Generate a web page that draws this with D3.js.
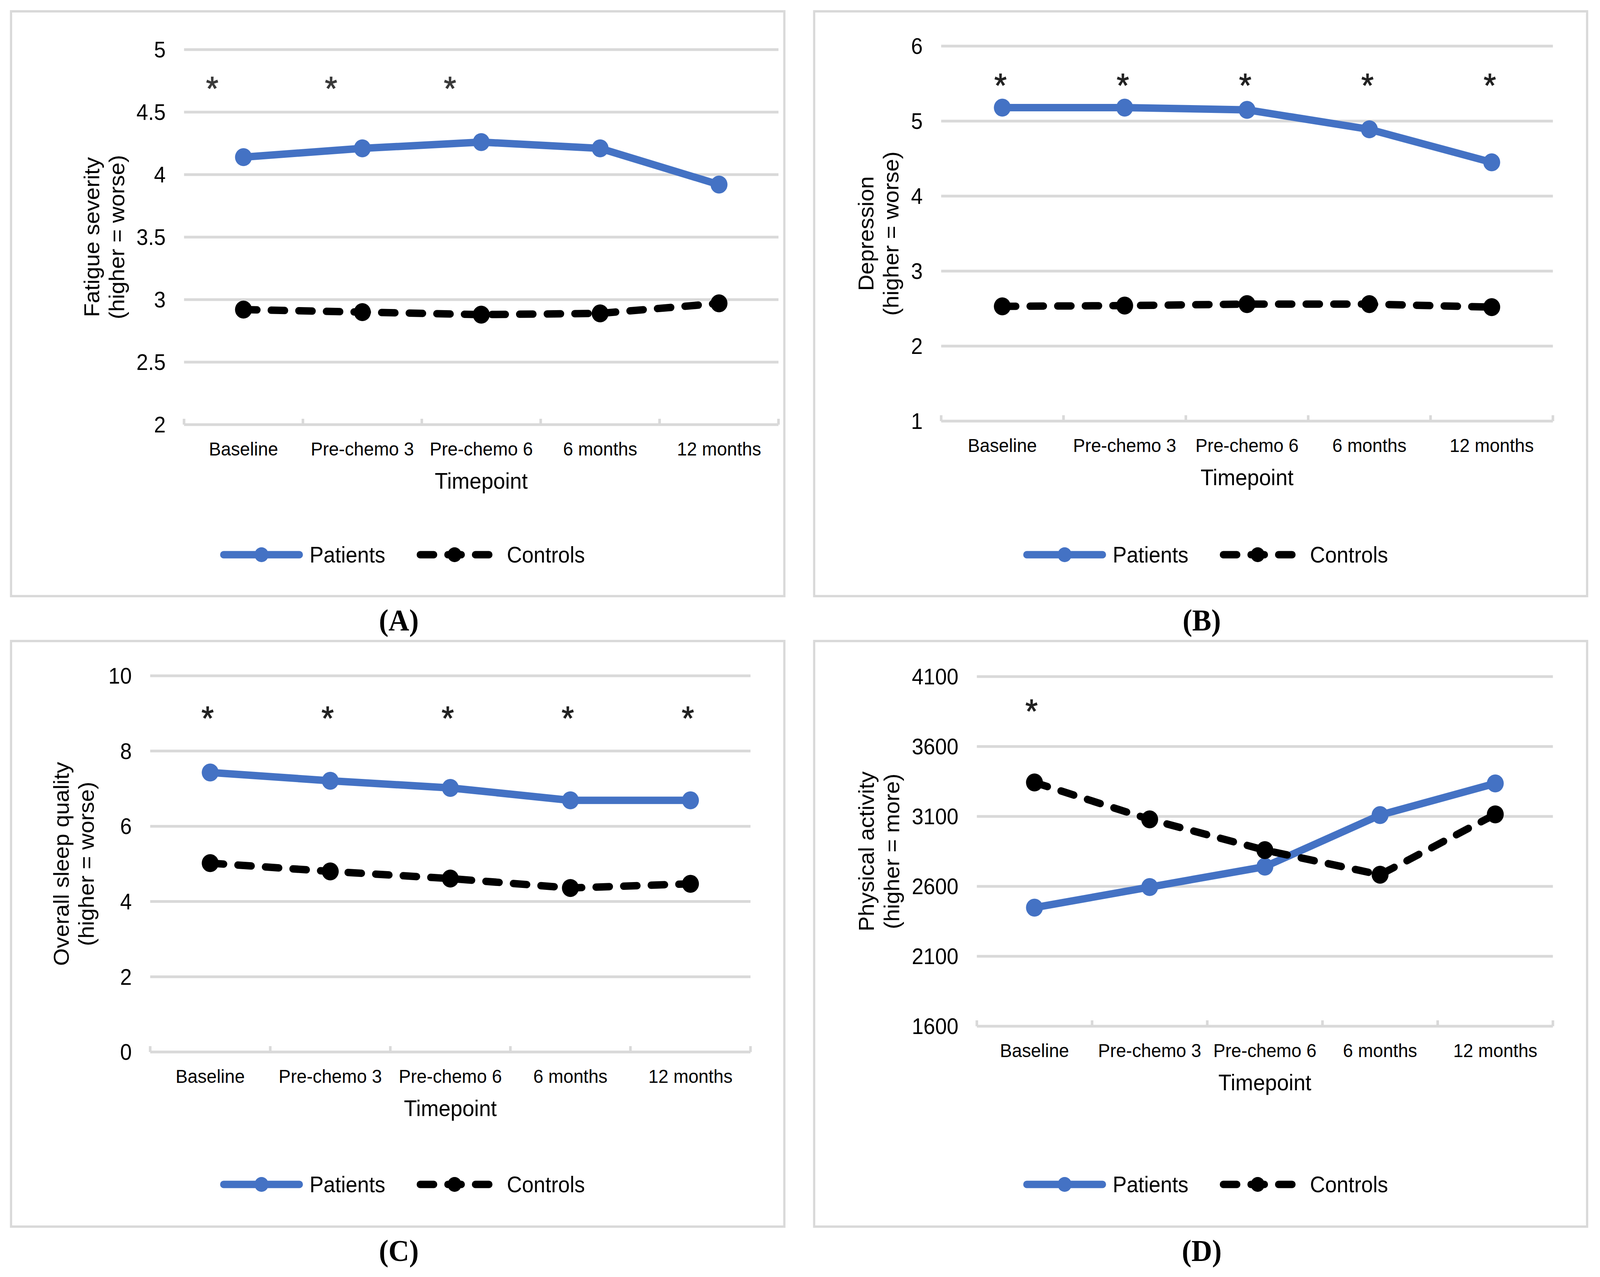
<!DOCTYPE html>
<html><head><meta charset="utf-8">
<script src="https://cdn.jsdelivr.net/npm/d3@7"></script>
<style>html,body{margin:0;padding:0;background:#fff;overflow:hidden;width:100%;height:100%;} svg{display:block;width:100vw;height:100vh}</style>
</head><body>
<svg id="chart" viewBox="0 0 4347 3269" preserveAspectRatio="none"></svg>
<script>
// ---------- data ----------
const categories = ["Baseline", "Pre-chemo 3", "Pre-chemo 6", "6 months", "12 months"];
const seriesNames = ["Patients", "Controls"];
const axisTitleX = "Timepoint";
const panelLabels = ["(A)", "(B)", "(C)", "(D)"];

const fatigueTicks = [2, 2.5, 3, 3.5, 4, 4.5, 5];
const fatiguePatients = [4.14, 4.21, 4.26, 4.21, 3.92];
const fatigueControls = [2.92, 2.90, 2.88, 2.89, 2.97];
const fatigueStars = [1, 1, 1, 0, 0];
const fatigueStarLevel = 4.725;

const depressionTicks = [1, 2, 3, 4, 5, 6];
const depressionPatients = [5.18, 5.18, 5.15, 4.89, 4.45];
const depressionControls = [2.53, 2.54, 2.56, 2.56, 2.52];
const depressionStars = [1, 1, 1, 1, 1];
const depressionStarLevel = 5.54;

const sleepTicks = [0, 2, 4, 6, 8, 10];
const sleepPatients = [7.43, 7.21, 7.02, 6.69, 6.69];
const sleepControls = [5.02, 4.80, 4.61, 4.36, 4.47];
const sleepStars = [1, 1, 1, 1, 1];
const sleepStarLevel = 9.0;

const activityTicks = [1600, 2100, 2600, 3100, 3600, 4100];
const activityPatients = [2448, 2595, 2741, 3110, 3336];
const activityControls = [3343, 3079, 2859, 2683, 3115];
const activityStars = [1, 0, 0, 0, 0];
const activityStarLevel = 3886;

// ---------- layout ----------
const panels = [
  { label: panelLabels[0], title: ["Fatigue severity", "(higher = worse)"], ticks: fatigueTicks,
    patients: fatiguePatients, controls: fatigueControls, stars: fatigueStars, starLevel: fatigueStarLevel,
    starDx: -85, starColor: "#3a3a3a",
    box: [30, 29, 2131, 1526], plot: [500, 2115, 1087, 127], titleX: [249, 317] },
  { label: panelLabels[1], title: ["Depression", "(higher = worse)"], ticks: depressionTicks,
    patients: depressionPatients, controls: depressionControls, stars: depressionStars, starLevel: depressionStarLevel,
    starDx: -5, starColor: "#222",
    box: [2212, 29, 4312, 1526], plot: [2557, 4219, 1078, 118], titleX: [2353, 2421] },
  { label: panelLabels[2], title: ["Overall sleep quality", "(higher = worse)"], ticks: sleepTicks,
    patients: sleepPatients, controls: sleepControls, stars: sleepStars, starLevel: sleepStarLevel,
    starDx: -7, starColor: "#222",
    box: [30, 1641, 2131, 3140], plot: [408, 2039, 2693, 1730], titleX: [166, 234] },
  { label: panelLabels[3], title: ["Physical activity", "(higher = more)"], ticks: activityTicks,
    patients: activityPatients, controls: activityControls, stars: activityStars, starLevel: activityStarLevel,
    starDx: -8, starColor: "#222",
    box: [2212, 1641, 4312, 3140], plot: [2654, 4219, 2627, 1732], titleX: [2354, 2423] }
];

const BLUE = "#4472C4", BLACK = "#000", GRID = "#d9d9d9";
const SANS = "'Liberation Sans', Arial, Helvetica, sans-serif";
const SERIF = "'Liberation Serif', 'Times New Roman', serif";
const LW = 19, R = 23, LR = 19, DASH = "37,38";

const svg = d3.select("#chart");
svg.append("rect").attr("width", 4347).attr("height", 3269).attr("fill", "#fff");

panels.forEach(p => {
  const [bx0, by0, bx1, by1] = p.box;
  const [px0, px1, pyB, pyT] = p.plot;
  const g = svg.append("g");

  // frame
  g.append("rect").attr("x", bx0).attr("y", by0).attr("width", bx1 - bx0).attr("height", by1 - by0)
    .attr("fill", "#fff").attr("stroke", GRID).attr("stroke-width", 6);

  const x = d3.scaleBand().domain(categories).range([px0, px1]).padding(0);
  const y = d3.scaleLinear().domain(d3.extent(p.ticks)).range([pyB, pyT]);
  const cx = c => x(c) + x.bandwidth() / 2;

  // gridlines (all ticks; lowest acts as axis)
  g.selectAll(".grid").data(p.ticks).join("line")
    .attr("x1", px0).attr("x2", px1)
    .attr("y1", d => y(d)).attr("y2", d => y(d))
    .attr("stroke", GRID).attr("stroke-width", 7);

  // category tick marks at band edges (pointing up)
  const edges = categories.map(c => x(c)).concat([px1]);
  g.selectAll(".tk").data(edges).join("line")
    .attr("x1", d => d).attr("x2", d => d)
    .attr("y1", pyB).attr("y2", pyB - 15)
    .attr("stroke", GRID).attr("stroke-width", 7);

  // y tick labels
  g.selectAll(".yl").data(p.ticks).join("text")
    .attr("x", px0 - 50).attr("y", d => y(d) + 0.355 * 57)
    .attr("text-anchor", "end").attr("font-family", SANS).attr("font-size", 57).attr("fill", "#000")
    .text(d => String(d));

  // category labels
  g.selectAll(".xl").data(categories).join("text")
    .attr("x", d => cx(d)).attr("y", pyB + 79)
    .attr("text-anchor", "middle").attr("font-family", SANS).attr("font-size", 49).attr("fill", "#000")
    .text(d => d);

  // x axis title
  g.append("text").attr("x", (px0 + px1) / 2).attr("y", pyB + 164)
    .attr("text-anchor", "middle").attr("font-family", SANS).attr("font-size", 58).attr("fill", "#000")
    .text(axisTitleX);

  // y axis title (two lines)
  const cy = (pyB + pyT) / 2;
  p.title.forEach((t, i) => {
    g.append("text")
      .attr("transform", `translate(${p.titleX[i] + 0.35 * 58},${cy}) rotate(-90)`)
      .attr("text-anchor", "middle").attr("font-family", SANS).attr("font-size", 58).attr("fill", "#000")
      .text(t);
  });

  // series
  const line = d3.line().x((d, i) => cx(categories[i])).y(d => y(d));
  g.append("path").datum(p.patients).attr("d", line)
    .attr("fill", "none").attr("stroke", BLUE).attr("stroke-width", LW)
    .attr("stroke-linejoin", "round").attr("stroke-linecap", "round");
  g.selectAll(".pm").data(p.patients).join("circle")
    .attr("cx", (d, i) => cx(categories[i])).attr("cy", d => y(d)).attr("r", R).attr("fill", BLUE);

  g.append("path").datum(p.controls).attr("d", line)
    .attr("fill", "none").attr("stroke", BLACK).attr("stroke-width", LW)
    .attr("stroke-dasharray", DASH).attr("stroke-linejoin", "round").attr("stroke-linecap", "round");
  g.selectAll(".cm").data(p.controls).join("circle")
    .attr("cx", (d, i) => cx(categories[i])).attr("cy", d => y(d)).attr("r", R).attr("fill", BLACK);

  // significance stars
  const SF = 86;
  g.selectAll(".st").data(categories.filter((c, i) => p.stars[i])).join("text")
    .attr("x", d => cx(d) + p.starDx).attr("y", y(p.starLevel) + 0.48 * SF)
    .attr("text-anchor", "middle").attr("font-family", SANS).attr("font-size", SF)
    .attr("fill", p.starColor).attr("stroke", p.starColor).attr("stroke-width", 1.5)
    .text("*");

  // legend
  const ly = 1420 - 29 + by0;
  const lx = bx0;
  g.append("line").attr("x1", lx + 568 + 9.5).attr("x2", lx + 793 - 9.5).attr("y1", ly).attr("y2", ly)
    .attr("stroke", BLUE).attr("stroke-width", LW).attr("stroke-linecap", "round");
  g.append("circle").attr("cx", lx + 680.5).attr("cy", ly).attr("r", LR).attr("fill", BLUE);
  g.append("text").attr("x", lx + 811).attr("y", ly + 0.355 * 57)
    .attr("font-family", SANS).attr("font-size", 57).attr("fill", "#000").text(seriesNames[0]);

  g.append("line").attr("x1", lx + 1102 + 9.5).attr("x2", lx + 1308 - 9.5).attr("y1", ly).attr("y2", ly)
    .attr("stroke", BLACK).attr("stroke-width", LW).attr("stroke-linecap", "round")
    .attr("stroke-dasharray", DASH);
  g.append("circle").attr("cx", lx + 1205).attr("cy", ly).attr("r", LR).attr("fill", BLACK);
  g.append("text").attr("x", lx + 1347).attr("y", ly + 0.355 * 57)
    .attr("font-family", SANS).attr("font-size", 57).attr("fill", "#000").text(seriesNames[1]);

  // panel label
  g.append("text").attr("x", (bx0 + bx1) / 2 + 3).attr("y", by1 + 88)
    .attr("text-anchor", "middle").attr("font-family", SERIF).attr("font-weight", "bold")
    .attr("font-size", 78).attr("fill", "#000").text(p.label);
});
</script>
</body></html>
